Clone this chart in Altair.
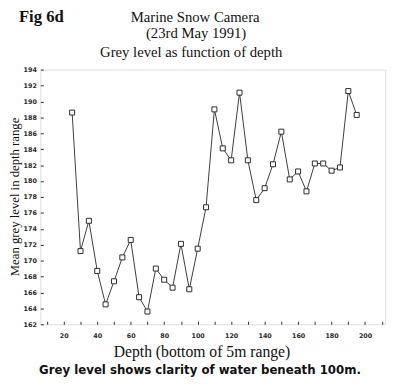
import altair as alt
import pandas as pd

depth = [25, 30, 35, 40, 45, 50, 55, 60, 65, 70, 75, 80, 85, 90, 95, 100,
         105, 110, 115, 120, 125, 130, 135, 140, 145, 150, 155, 160, 165, 170,
         175, 180, 185, 190, 195]
grey = [188.6, 171.2, 175.0, 168.7, 164.5, 167.4, 170.4, 172.6, 165.4, 163.6,
        169.0, 167.6, 166.6, 172.1, 166.4, 171.5,
        176.7, 189.0, 184.1, 182.6, 191.1, 182.6, 177.6, 179.1, 182.1, 186.2,
        180.2, 181.2, 178.7, 182.2, 182.2, 181.3, 181.7, 191.3, 188.3]

x_ticks = list(range(10, 211, 10))
y_ticks = list(range(162, 195, 2))

df = pd.DataFrame({"depth": depth, "grey": grey})

W, H = 352, 260
SERIF = "Liberation Serif"
SANS = "DejaVu Sans"
INK = "#2a2a2a"

x_enc = alt.X("depth:Q", scale=alt.Scale(domain=[6, 212], nice=False, zero=False),
              axis=alt.Axis(values=x_ticks, title=None, grid=False, domain=False,
                            offset=-3, tickSize=3, tickColor=INK, tickWidth=1,
                            labelExpr="datum.value % 20 == 0 ? datum.label : ''",
                            labelOverlap=False,
                            labelFont=SANS, labelFontWeight="bold", labelFontSize=6.5,
                            labelColor=INK, labelPadding=8, labelFlush=False))
y_enc = alt.Y("grey:Q", scale=alt.Scale(domain=[162, 194], nice=False, zero=False),
              axis=alt.Axis(values=y_ticks, title=None, grid=False, domain=False,
                            offset=-3, tickSize=3, tickColor=INK, tickWidth=1,
                            format="d", labelOverlap=False, labelFlush=False,
                            labelFont=SANS, labelFontWeight="bold",
                            labelFontSize=6.5, labelColor=INK, labelPadding=4))

base = alt.Chart(df).encode(x=x_enc, y=y_enc)
line = base.mark_line(color="#3a3a3a", strokeWidth=1)
pts = base.mark_point(shape="square", filled=False, fill="white", stroke="#2a2a2a",
                      size=26, strokeWidth=1, opacity=1, fillOpacity=1,
                      strokeOpacity=1)

texts = [
    ("Fig 6d", 1, -54, 17, SERIF, "bold", 0),
    ("Marine Snow Camera", 158, -54, 15, SERIF, "normal", 0),
    ("(23rd May 1991)", 159, -37, 15, SERIF, "normal", 0),
    ("Grey level as function of depth", 154, -18, 15, SERIF, "normal", 0),
    ("Mean grey level in depth range", -25.5, 130, 13, SERIF, "normal", 270),
    ("Depth (bottom of 5m range)", 165, 288, 16, SERIF, "normal", 0),
    ("Grey level shows clarity of water beneath 100m.", 163, 307, 12, SANS, "bold", 0),
]
layers = [line, pts]
for t, x, y, s, f, w, a in texts:
    layers.append(
        alt.Chart(pd.DataFrame({"t": [t]})).mark_text(
            font=f, fontSize=s, fontWeight=w, angle=a, align="center",
            baseline="middle", color="#111111"
        ).encode(text="t:N", x=alt.value(x), y=alt.value(y))
    )

chart = alt.layer(*layers).properties(
    width=W, height=H,
    autosize=alt.AutoSizeParams(type="none"),
    padding={"left": 33, "top": 59, "right": 7, "bottom": 52},
).configure_view(stroke="#333333", strokeWidth=1.2).configure(background="white")

chart.save("out.html", embed_options={"renderer": "svg", "actions": False})
